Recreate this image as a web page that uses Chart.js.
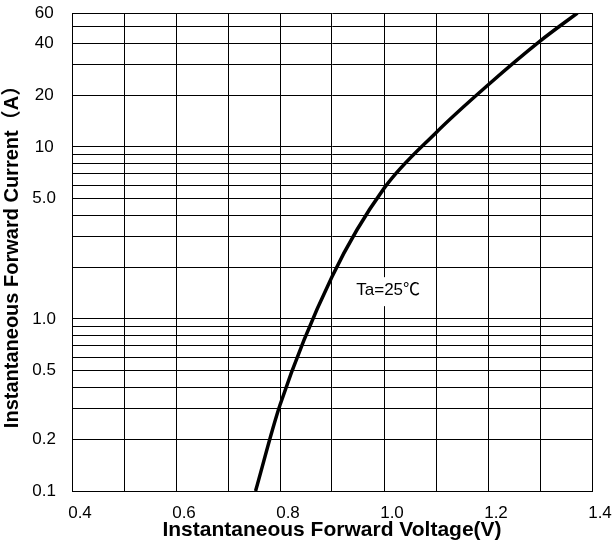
<!DOCTYPE html>
<html>
<head>
<meta charset="utf-8">
<script src="https://cdn.jsdelivr.net/npm/chart.js@4.4.1/dist/chart.umd.min.js"></script>
<style>
    html, body { margin: 0; padding: 0; background: #fff; }
    canvas { display: block; }
</style>
</head>
<body>
<canvas id="grafico" width="615" height="541"></canvas>
<script>
// Datos (V, A)
const tensiones = [0.753, 0.8, 0.9, 1.0, 1.1, 1.2, 1.3, 1.372];
const corrientes = [0.1, 0.316, 1.76, 5.74, 12.1, 22.9, 41.2, 60];

// Lineas de grilla y etiquetas de los ejes
const valoresGrillaY = [0.1, 0.2, 0.3, 0.4, 0.5, 0.6, 0.7, 0.8, 0.9,
                        1, 2, 3, 4, 5, 6, 7, 8, 9,
                        10, 20, 30, 40, 50, 60];
const valoresEtiquetaY = [0.1, 0.2, 0.5, 1, 5, 10, 20, 40, 60];
const etiquetasY = ['0.1', '0.2', '0.5', '1.0', '5.0', '10', '20', '40', '60'];
const etiquetasX = ['0.4', '0.6', '0.8', '1.0', '1.2', '1.4'];

const tituloX = 'Instantaneous Forward Voltage(V)';
const tituloY = 'Instantaneous Forward Current（A）';
const textoAnotacion = 'Ta=25℃';
const posAnotacion = { x: 1.008, y: 1.47 };

const FUENTE = '"Liberation Sans", Arial, "Noto Sans CJK SC", sans-serif';

class GraficoDiodo {
    constructor(canvas) {
        this.canvas = canvas;
    }

    // Métodos privados
    #datos() {
        return tensiones.map((v, i) => ({ x: v, y: corrientes[i] }));
    }

    #pluginAnotacion() {
        return {
            id: 'anotacion',
            beforeDatasetsDraw(chart) {
                const { ctx, scales: { x, y } } = chart;
                const px = x.getPixelForValue(posAnotacion.x);
                const py = y.getPixelForValue(posAnotacion.y);

                ctx.save();
                ctx.font = '17px ' + FUENTE;
                const ancho = ctx.measureText(textoAnotacion).width;
                ctx.fillStyle = '#fff';
                ctx.fillRect(px - ancho / 2 - 12, py - 13, ancho + 24, 29);
                ctx.fillStyle = '#000';
                ctx.textAlign = 'center';
                ctx.textBaseline = 'middle';
                ctx.fillText(textoAnotacion, px, py);
                ctx.restore();
            }
        };
    }

    // Métodos públicos
    graficar() {
        // las marcas de los ejes son invisibles, solo separan las etiquetas
        const grilla = largo => ({
            color: '#000',
            lineWidth: 1,
            drawTicks: true,
            tickLength: largo,
            tickColor: 'rgba(0,0,0,0)'
        });

        return new Chart(this.canvas, {
            type: 'line',
            data: {
                datasets: [{
                    data: this.#datos(),
                    borderColor: '#000',
                    borderWidth: 3.5,
                    pointRadius: 0,
                    cubicInterpolationMode: 'monotone',
                    fill: false
                }]
            },
            options: {
                responsive: false,
                animation: false,
                devicePixelRatio: 1,
                layout: { padding: { top: 13, right: 23, bottom: 0, left: 0 } },
                plugins: {
                    legend: { display: false },
                    tooltip: { enabled: false }
                },
                scales: {
                    x: {
                        type: 'linear',
                        min: 0.4,
                        max: 1.4,
                        grid: grilla(12),
                        border: { color: '#000', width: 1 },
                        ticks: {
                            stepSize: 0.1,
                            autoSkip: false,
                            maxRotation: 0,
                            padding: 0,
                            labelOffset: 8,
                            color: '#000',
                            font: { family: FUENTE, size: 17 },
                            callback: value => {
                                const texto = Number(value).toFixed(1);
                                return etiquetasX.includes(texto) ? texto : '';
                            }
                        },
                        title: {
                            display: true,
                            text: tituloX,
                            color: '#000',
                            padding: { top: 0, bottom: -2 },
                            font: { family: FUENTE, size: 21, weight: 'bold' }
                        },
                        afterFit: escala => { escala.height = 50; }
                    },
                    y: {
                        type: 'logarithmic',
                        min: 0.1,
                        max: 60,
                        grid: grilla(16),
                        border: { color: '#000', width: 1 },
                        afterBuildTicks: escala => {
                            escala.ticks = valoresGrillaY.map(v => ({ value: v }));
                        },
                        ticks: {
                            autoSkip: false,
                            padding: 0,
                            crossAlign: 'center',
                            color: '#000',
                            font: { family: FUENTE, size: 17 },
                            callback: value => {
                                const i = valoresEtiquetaY.findIndex(v => Math.abs(v - value) < 1e-9);
                                return i >= 0 ? etiquetasY[i] : '';
                            }
                        },
                        title: {
                            display: true,
                            text: tituloY,
                            color: '#000',
                            padding: { top: 0, bottom: 5 },
                            font: { family: FUENTE, size: 20, weight: 'bold' }
                        },
                        afterFit: escala => { escala.width = 72; }
                    }
                }
            },
            plugins: [this.#pluginAnotacion()]
        });
    }
}

new GraficoDiodo(document.getElementById('grafico')).graficar();
</script>
</body>
</html>
